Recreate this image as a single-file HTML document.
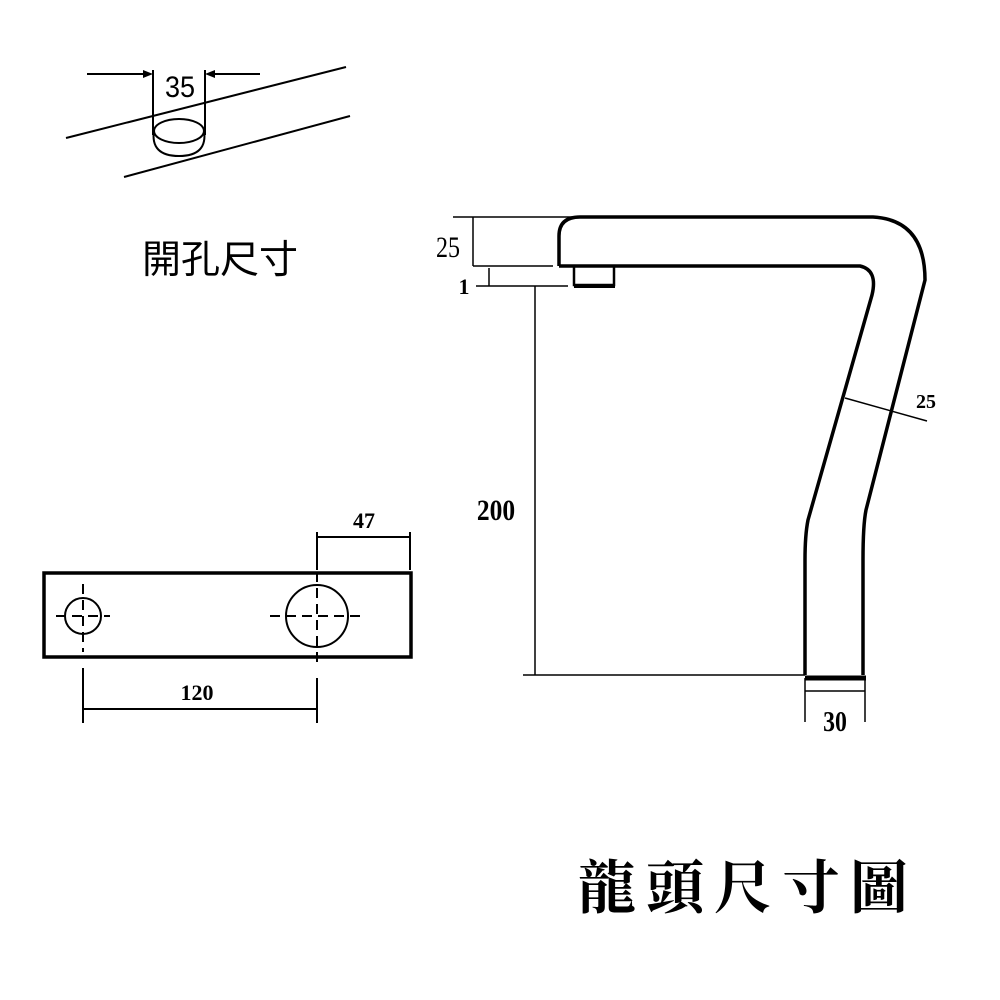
<!DOCTYPE html>
<html><head><meta charset="utf-8"><style>
html,body{margin:0;padding:0;background:#fff;}
svg{display:block;}
</style></head><body>
<svg width="1000" height="1000" viewBox="0 0 1000 1000" xmlns="http://www.w3.org/2000/svg">
<rect width="1000" height="1000" fill="#fff"/>
<g stroke="#000" fill="none" stroke-width="2">
<!-- hole size diagram -->
<line x1="87" y1="74" x2="150" y2="74"/>
<line x1="208" y1="74" x2="260" y2="74"/>
<path d="M153 74 L143 70 L143 78 Z M205 74 L215 70 L215 78 Z" fill="#000" stroke="none"/>
<line x1="153" y1="70" x2="153" y2="135"/>
<line x1="205" y1="70" x2="205" y2="135"/>
<line x1="66" y1="138" x2="346" y2="67"/>
<line x1="124" y1="177" x2="350" y2="116"/>
<ellipse cx="179" cy="131" rx="25" ry="12"/>
<path d="M154 130 Q150 156 179 156 Q208 156 204 130"/>
<!-- plate -->
<rect x="44" y="573" width="367" height="84" stroke-width="3.5"/>
<circle cx="83" cy="616" r="18"/>
<circle cx="317" cy="616" r="31"/>
<g stroke-dasharray="10,6">
<line x1="56" y1="616" x2="110" y2="616"/>
<line x1="83" y1="584" x2="83" y2="652"/>
<line x1="270" y1="616" x2="364" y2="616"/>
<line x1="317" y1="572" x2="317" y2="666"/>
</g>
<line x1="317" y1="532" x2="317" y2="570"/>
<line x1="410" y1="532" x2="410" y2="570"/>
<line x1="317" y1="537" x2="410" y2="537"/>
<line x1="83" y1="668" x2="83" y2="723"/>
<line x1="317" y1="678" x2="317" y2="723"/>
<line x1="83" y1="709" x2="317" y2="709"/>
<!-- faucet -->
<path d="M559 266 L559 236 Q559 217 580 217 L873 217 Q925 220 925 280 L866 510 Q863 525 863 560 L863 675" stroke-width="3.5"/>
<path d="M559 266 L860 266 Q878 270 872 295 L808 520 Q805 535 805 560 L805 675" stroke-width="3.5"/>
<line x1="805" y1="678" x2="866" y2="678" stroke-width="5"/>
<rect x="574" y="266" width="40" height="19" stroke-width="2.5"/>
<line x1="574" y1="286" x2="615" y2="286" stroke-width="4"/>
<line x1="453" y1="217" x2="573" y2="217" stroke-width="1.5"/>
<line x1="473" y1="217" x2="473" y2="266" stroke-width="1.5"/>
<line x1="473" y1="266" x2="553" y2="266" stroke-width="1.5"/>
<line x1="489" y1="268" x2="489" y2="286" stroke-width="1.5"/>
<line x1="476" y1="286" x2="568" y2="286" stroke-width="1.5"/>
<line x1="535" y1="286" x2="535" y2="675" stroke-width="1.5"/>
<line x1="523" y1="675" x2="805" y2="675" stroke-width="1.5"/>
<line x1="845" y1="398" x2="927" y2="421" stroke-width="1.5"/>
<line x1="805" y1="678" x2="805" y2="722" stroke-width="1.5"/>
<line x1="865" y1="678" x2="865" y2="722" stroke-width="1.5"/>
<line x1="805" y1="691" x2="865" y2="691" stroke-width="1.5"/>
</g>
<g font-family="Liberation Sans, sans-serif" fill="#000">
<text x="180" y="97" font-size="30" text-anchor="middle" transform="translate(180 0) scale(0.9 1) translate(-180 0)">35</text>
<text x="220" y="273" font-size="39" text-anchor="middle" font-family="Liberation Sans, Noto Sans CJK TC, sans-serif">開孔尺寸</text>
</g>
<g font-family="Liberation Serif, serif" font-weight="bold" fill="#000">
<text x="364" y="528" font-size="22" text-anchor="middle">47</text>
<text x="197" y="700" font-size="22" text-anchor="middle">120</text>
<text x="448" y="257" font-size="30" text-anchor="middle" font-weight="normal" transform="translate(448 0) scale(0.8 1) translate(-448 0)">25</text>
<text x="464" y="294" font-size="22" text-anchor="middle">1</text>
<text x="496" y="520" font-size="30" text-anchor="middle" transform="translate(496 0) scale(0.85 1) translate(-496 0)">200</text>
<text x="926" y="408" font-size="20" text-anchor="middle">25</text>
<text x="835" y="731" font-size="28" text-anchor="middle" transform="translate(835 0) scale(0.85 1) translate(-835 0)">30</text>
<text x="748" y="908" font-size="58" text-anchor="middle" letter-spacing="10" font-family="Liberation Serif, Noto Serif CJK SC, serif">龍頭尺寸圖</text>
</g>
</svg>
</body></html>
